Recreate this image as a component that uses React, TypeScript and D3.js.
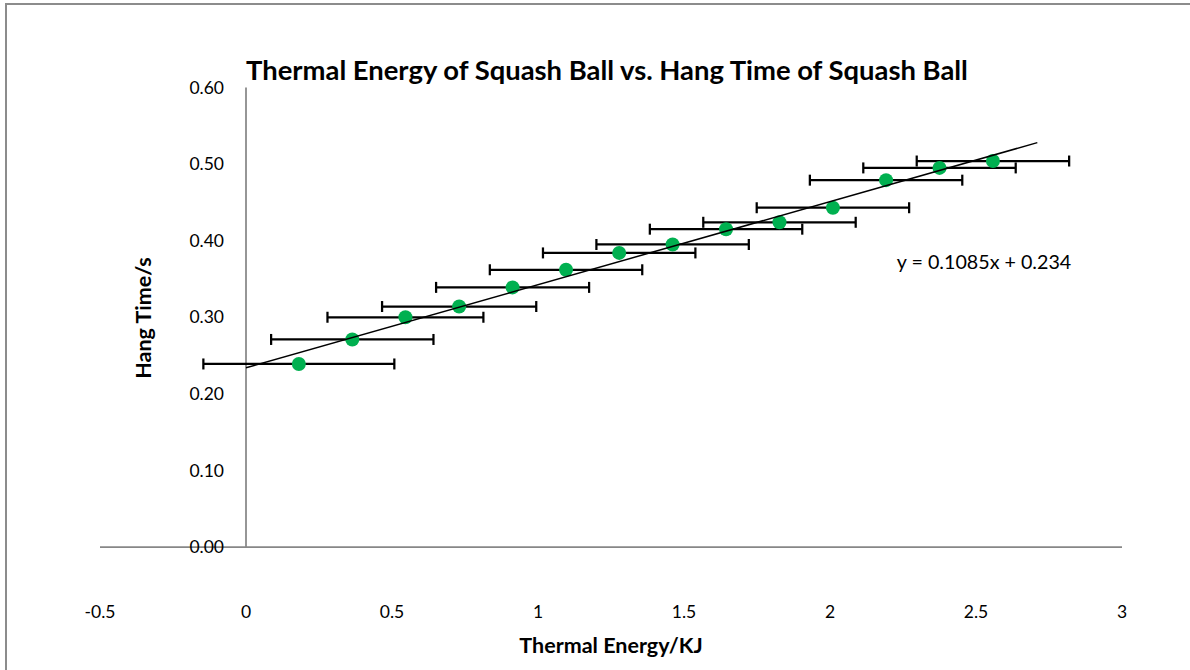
import React from "react";
import * as d3 from "d3";

const energy = [0.181, 0.364, 0.546, 0.73, 0.913, 1.096, 1.278, 1.461, 1.644, 1.827, 2.01, 2.192, 2.375, 2.558];
const hangTime = [0.239, 0.271, 0.3, 0.314, 0.339, 0.362, 0.384, 0.395, 0.415, 0.424, 0.443, 0.479, 0.495, 0.504];
const energyErr = [0.327, 0.278, 0.267, 0.264, 0.262, 0.261, 0.261, 0.261, 0.261, 0.261, 0.261, 0.261, 0.261, 0.261];
const xTicks = [-0.5, 0, 0.5, 1, 1.5, 2, 2.5, 3];
const yTicks = [0, 0.1, 0.2, 0.3, 0.4, 0.5, 0.6];
const slope = 0.1085;
const intercept = 0.234;
const trendRange = [0, 2.71];

const FONT = "Lato, 'Open Sans', sans-serif";

export default function App() {
  const x = d3.scaleLinear().domain([-0.5, 3]).range([100, 1122]);
  const y = d3.scaleLinear().domain([0, 0.6]).range([547, 87.5]);
  const line = d3
    .line<number>()
    .x((d) => x(d))
    .y((d) => y(slope * d + intercept));
  const cap = 5.5;
  return (
    <svg
      width={1190}
      height={670}
      style={{ position: "absolute", left: 0, top: 0, background: "#fff" }}
      fontFamily={FONT}
    >
      <rect x={0} y={0} width={1190} height={670} fill="#fff" />
      <rect x={6} y={4} width={1300} height={800} fill="none" stroke="#8c8c8c" strokeWidth={2} />
      <text x={607} y={70} dy="0.35em" textAnchor="middle" fontWeight="bold" fontSize={27.4} fill="#000">
        Thermal Energy of Squash Ball vs. Hang Time of Squash Ball
      </text>
      {/* axes */}
      <line x1={x(-0.5)} x2={x(3)} y1={y(0)} y2={y(0)} stroke="#878787" strokeWidth={1.75} />
      <line x1={x(0)} x2={x(0)} y1={y(0)} y2={y(0.6)} stroke="#878787" strokeWidth={1.75} />
      {yTicks.map((t) => (
        <text key={t} x={224} y={y(t)} dy="0.35em" textAnchor="end" fontSize={17.5} fill="#000">
          {t.toFixed(2)}
        </text>
      ))}
      {xTicks.map((t) => (
        <text key={t} x={x(t)} y={612} dy="0.35em" textAnchor="middle" fontSize={17.5} fill="#000">
          {String(t)}
        </text>
      ))}
      <text x={611} y={645} dy="0.35em" textAnchor="middle" fontWeight="bold" fontSize={21.5} fill="#000">
        Thermal Energy/KJ
      </text>
      <text
        transform={`translate(143,318) rotate(-90)`}
        dy="0.35em"
        textAnchor="middle"
        fontWeight="bold"
        fontSize={21.5}
        fill="#000"
      >
        Hang Time/s
      </text>
      {/* error bars */}
      {energy.map((e, i) => {
        const cy = y(hangTime[i]);
        const x1 = x(e - energyErr[i]);
        const x2 = x(e + energyErr[i]);
        return (
          <g key={i} stroke="#000" strokeWidth={2.25}>
            <line x1={x1} x2={x2} y1={cy} y2={cy} />
            <line x1={x1} x2={x1} y1={cy - cap} y2={cy + cap} />
            <line x1={x2} x2={x2} y1={cy - cap} y2={cy + cap} />
          </g>
        );
      })}
      {/* points */}
      {energy.map((e, i) => (
        <circle key={i} cx={x(e)} cy={y(hangTime[i])} r={7} fill="#00B050" />
      ))}
      {/* trendline */}
      <path d={line(trendRange) || ""} stroke="#000" strokeWidth={1.5} fill="none" />
      <text x={984} y={262} dy="0.35em" textAnchor="middle" fontSize={19.7} fill="#000">
        y = 0.1085x + 0.234
      </text>
    </svg>
  );
}
